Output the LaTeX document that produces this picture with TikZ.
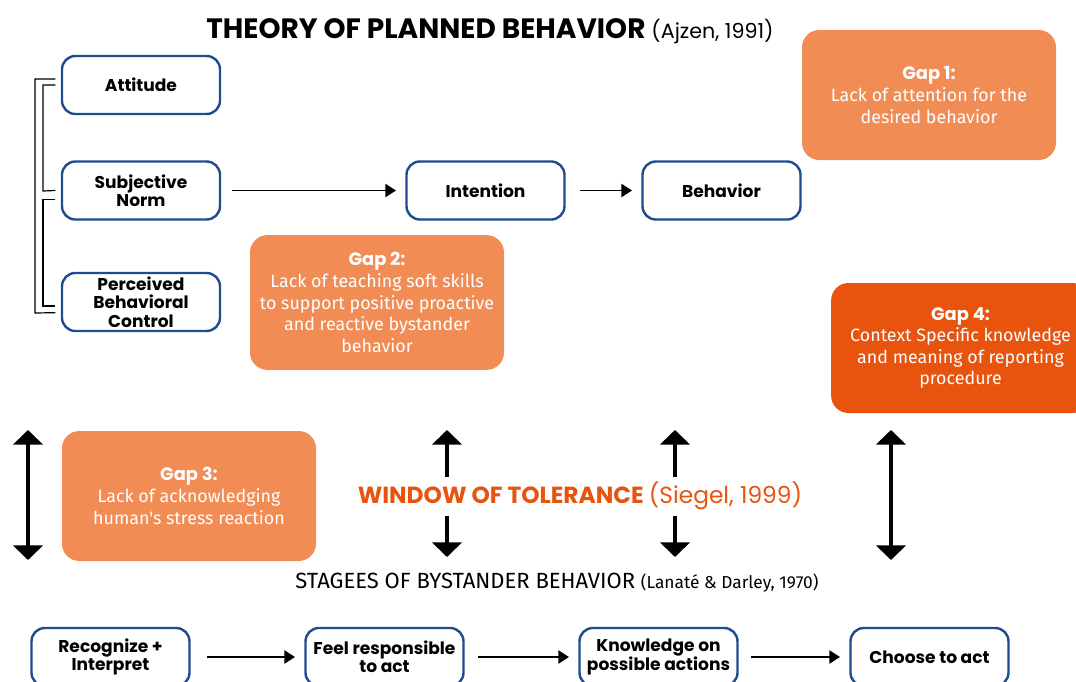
\documentclass[tikz,border=0pt]{standalone}
\usepackage{fontspec}
\setmainfont{Poppins}
\newfontfamily\gapbody{Fira Sans}
\usetikzlibrary{arrows.meta}

\definecolor{gapLight}{HTML}{F28C55}
\definecolor{gapDark}{HTML}{E8530E}
\definecolor{boxBlue}{HTML}{1F4C8F}

\tikzset{
    tpb/.style={draw=boxBlue, line width=1.8pt, rounded corners=10pt, fill=white, align=center,
        minimum width=118.5pt, minimum height=43.5pt, inner sep=0pt,
        font=\bfseries\fontsize{12.8}{13.8}\selectfont},
    gap/.style={fill=gapLight, rounded corners=13pt, text=white, align=center,
        minimum width=190.5pt, minimum height=97.5pt,
        font=\gapbody\fontsize{13.4}{16.2}\selectfont},
    flow/.style={-{Triangle[length=8pt,width=10pt]}, line width=1.1pt, shorten <=8pt, shorten >=7pt},
    wot/.style={{Triangle[length=11pt,width=22pt]}-{Triangle[length=11pt,width=22pt]}, line width=3pt},
    wotend/.style={-{Triangle[length=11pt,width=22pt]}, line width=3pt},
}

\begin{document}
\begin{tikzpicture}[x=0.75pt,y=-0.75pt]
\useasboundingbox (0,0) rectangle (1076,682);
\node (title) at (490,31){\bfseries\fontsize{21}{22}\selectfont THEORY OF PLANNED BEHAVIOR {\mdseries\fontsize{15.5}{17}\selectfont(Ajzen, 1991)}};
\node[tpb] (att) at (141,85){Attitude};
\node[tpb] (norm) at (141,190.5){Subjective\\Norm};
\node[tpb] (pbc) at (141,302){Perceived\\Behavioral\\Control};
\node[tpb] (intent) at (485.5,190.5){Intention};
\node[tpb] (behav) at (721.5,190.5){Behavior};
\node[gap] (gap1) at (929,95){{\rmfamily\bfseries Gap 1:}\\Lack of attention for the\\desired behavior};
\node[gap, minimum height=101pt] (gap2) at (377,302.5){{\rmfamily\bfseries Gap 2:}\\Lack of teaching soft skills\\to support positive proactive\\and reactive bystander\\behavior};
\node[gap, fill=gapDark, minimum width=194pt] (gap4) at (960.5,348){{\rmfamily\bfseries Gap 4:}\\Context Specific knowledge\\and meaning of reporting\\procedure};
\node[gap] (gap3) at (189,496){{\rmfamily\bfseries Gap 3:}\\Lack of acknowledging\\human's stress reaction};
\node (window) at (580,496){\color{gapDark}\bfseries\fontsize{17.5}{20}\selectfont WINDOW OF TOLERANCE {\mdseries(Siegel, 1999)}};
\node (stages) at (557,583){\gapbody\fontsize{16.5}{18}\selectfont STAGEES OF BYSTANDER BEHAVIOR {\fontsize{13}{14}\selectfont(Lanaté \& Darley, 1970)}};
\node[tpb] (recog) at (110.5,657){Recognize +\\Interpret};
\node[tpb] (feel) at (384.5,657){Feel responsible\\to act};
\node[tpb] (know) at (658.5,657){Knowledge on\\possible actions};
\node[tpb] (choose) at (929.5,657){Choose to act};
% brackets
\draw[line width=0.9pt] ([xshift=-4pt,yshift=4.5pt]att.west) -| (35,313) -- ([xshift=-4pt,yshift=-8pt]pbc.west);
\draw[line width=0.9pt] ([xshift=-4pt]att.west) -| (43,191) -- ([xshift=-4pt,yshift=0pt]norm.west);
\draw[line width=0.9pt] ([xshift=-4pt,yshift=-7pt]norm.west) -| (43,306) -- ([xshift=-4pt,yshift=-3pt]pbc.west);
\draw[flow] (norm) -- (intent);
\draw[flow, shorten <=11pt] (intent) -- (behav);
\draw[flow, shorten <=12pt] (recog) -- (feel);
\draw[flow, shorten <=10pt] (feel) -- (know);
\draw[flow, shorten <=9pt] (know) -- (choose);
% window of tolerance arrows
\coordinate (l1) at (28,430);
\coordinate (l2) at (28,560);
\coordinate (r1) at (891,430);
\coordinate (r2) at (891,560);
\draw[wot] (l1) -- (l2);
\draw[wot] (r1) -- (r2);
\foreach \x in {447,675}{
    \draw[wotend] (\x,477) -- (\x,430);
    \draw[wotend] (\x,516) -- (\x,557);
}
\end{tikzpicture}
\end{document}
